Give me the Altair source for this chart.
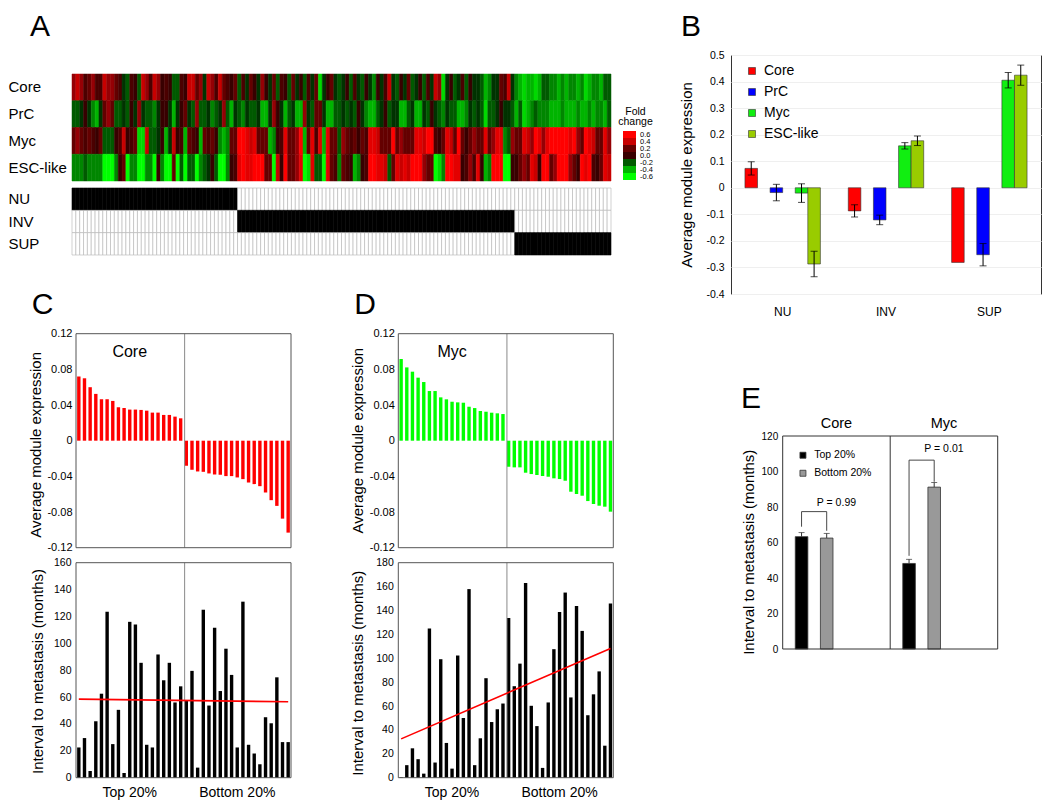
import altair as alt
import pandas as pd

FONT = "Liberation Sans"

# ---------------- Panel A data (fold change, in tenths) ----------------
modules = ["Core", "PrC", "Myc", "ESC-like"]
core_fc = [
    3, 4, 3, 1, 2, 3, 1, 1, 4, 3,
    3, 2, 1, -1, -2, 1, 0, -2, 4, 3,
    1, 4, 3, 0, 1, 0, -2, -2, 1, 0,
    4, 4, 2, 3, -1, 4, 3, 1, 4, 2,
    1, 0, 2, -2, 1, -1, 2, 0, -1, 3,
    0, -1, 2, -2, 1, 0, -2, 2, -1, 0,
    -2, 1, -1, 2, -5, -1, 0, 2, -1, -2,
    -1, 0, -2, 1, -1, -2, 0, -1, -3, 0,
    -1, 1, 4, -1, -2, 0, -1, 2, -2, -1,
    0, -2, 1, -1, 4, 3, -5, -1, 0, -2,
    -1, 1, -2, 0, -1, -1, -2, -4, -3, -1,
    -1, 2, 1, 4, -1, -3, -4, -5, -4, -4,
    -5, -4, -2, -2, -3, -3, -4, -3, -4, -3,
    -3, -4, -3, -5, -4, -3, -3, -4, -2, -2]
prc_fc = [
    -2, -2, -1, 0, -1, -3, -4, -1, 2, 3,
    2, -2, -2, -1, -2, 0, -1, 3, -1, -2,
    -2, -3, -1, 0, 0, -1, -4, -1, 0, 2,
    -1, -2, 3, -2, -2, -1, -3, -2, -1, 3,
    -2, -4, -1, -2, -3, -1, -2, -2, -1, -4,
    -4, -1, 3, 0, -1, -4, -2, -1, -4, -4,
    3, -1, -2, 2, 2, -1, -4, -4, -2, -2,
    -1, -2, -1, -2, 0, -1, -3, -4, -4, -2,
    -1, 0, -2, -1, -1, -4, -4, -2, -1, -4,
    -4, -1, -2, 0, -1, -2, -3, -1, -2, -2,
    -4, -4, -3, -1, -2, -1, -2, -5, -2, -2,
    -1, 0, -1, -1, -2, -4, -2, -5, -4, -3,
    -2, -3, -3, -3, -4, -4, -4, -3, -4, -4,
    -4, -3, -4, -4, -3, -4, -3, -3, -4, -2]
myc_fc = [
    2, 3, 2, 1, 2, 1, 0, 2, -2, -2,
    -2, 0, 1, 4, 0, 1, 2, -5, -5, 4,
    -2, -2, -1, 0, -4, -1, 4, 0, 1, -4,
    2, 1, 0, -4, 2, 1, 2, 0, -3, -4,
    -3, 2, 2, 6, 6, 5, 4, 5, 2, 2,
    2, -4, -3, 0, 1, 5, 2, 2, 3, 6,
    -4, 2, 5, 1, 5, -4, 5, 2, 2, -2,
    3, 2, 1, 2, 0, 2, 1, 5, 5, 4,
    2, 2, 2, 6, 2, 3, 2, 2, 2, 5,
    5, 4, 6, 6, 1, 0, 2, 5, 4, 2,
    6, 2, 0, 2, 3, 2, 2, 5, 2, 3,
    5, 5, -3, -2, 3, 2, 2, 5, 4, 3,
    6, 5, 3, 5, 6, 6, 6, 6, 6, 5,
    6, 3, 2, 6, 5, 4, 2, 2, 5, 3]
esc_fc = [
    -3, -3, -3, -2, -3, -3, -3, -3, -6, -6,
    -6, -3, 0, 2, -6, -3, -3, -6, -6, -3,
    -3, -6, 0, -3, -6, -6, 2, -6, -2, -6,
    -2, -2, -6, -3, -2, -1, 0, -2, -6, -6,
    -3, 0, 1, 5, 6, 5, 5, 6, 6, 6,
    2, 2, -6, 4, 0, 6, 2, 2, 3, 5,
    -6, -5, 5, -2, -2, -6, 5, 2, 1, -3,
    2, 1, 0, -4, -3, 0, 1, 6, 6, 5,
    5, 4, -2, 2, 5, 4, 5, 4, 6, 6,
    6, 3, 2, 2, -6, -5, -3, 6, 6, 5,
    5, 0, 1, 3, 1, 5, 0, -4, -3, 6,
    6, 6, -6, -6, 0, 0, 2, 3, 2, 5,
    4, 0, 6, 6, 2, 3, 6, 6, 6, 3,
    2, 0, 6, 5, 6, 1, 0, 2, 5, 4]
group_names = ["NU", "INV", "SUP"]
group_sizes = [43, 72, 25]
fold_levels = [0.6, 0.4, 0.2, 0.0, -0.2, -0.4, -0.6]
fold_labels = ["0.6", "0.4", "0.2", "0.0", "-0.2", "-0.4", "-0.6"]
fold_colors = ["#FF0000", "#C80000", "#640000", "#000000", "#005A00", "#00B400", "#00FF00"]
fold_title = ["Fold", "change"]

# ---------------- Panel B data ----------------
b_groups = ["NU", "INV", "SUP"]
b_series = ["Core", "PrC", "Myc", "ESC-like"]
b_colors = ["#FF0000", "#0000FF", "#11EE11", "#99CC00"]
b_core = [0.073, -0.087, -0.281]
b_prc = [-0.018, -0.121, -0.252]
b_myc = [-0.020, 0.158, 0.405]
b_esc = [-0.287, 0.177, 0.424]
b_core_err = [0.025, 0.023, 0.0]
b_prc_err = [0.031, 0.018, 0.042]
b_myc_err = [0.035, 0.012, 0.029]
b_esc_err = [0.048, 0.018, 0.038]

# ---------------- Panels C / D data ----------------
sample_idx = list(range(1, 39))
c_expr = [0.072, 0.070, 0.060, 0.0525, 0.0465, 0.0465, 0.0446, 0.0375, 0.0367, 0.0349,
          0.0349, 0.0345, 0.0337, 0.0315, 0.0315, 0.0289, 0.0289, 0.027, 0.0251,
          -0.0281, -0.0326, -0.0345, -0.0349, -0.0367, -0.0379, -0.0382, -0.0397, -0.0397,
          -0.0412, -0.0431, -0.0469, -0.0487, -0.051, -0.0581, -0.0667, -0.0731, -0.0874, -0.1031]
c_interval = [22.5, 29.5, 5, 42, 62.5, 123.5, 25, 50.5, 3.5, 116, 114, 85.5, 24.5, 22.5,
              91.7, 72.5, 85.5, 56, 68, 57.5, 79.5, 7.5, 125, 53.7, 111.5, 64.5, 96, 76.5,
              22.5, 131, 24.5, 18, 10, 45, 40.5, 74.7, 26.5, 26.5]
c_trend = [58.5, 56.5]
d_expr = [0.0916, 0.0822, 0.0774, 0.0707, 0.0658, 0.0557, 0.0557, 0.0486, 0.0464, 0.0437,
          0.043, 0.0426, 0.0381, 0.0366, 0.0333, 0.0325, 0.0314, 0.0307, 0.0299,
          -0.0292, -0.0299, -0.0299, -0.0359, -0.0374, -0.0385, -0.0396, -0.0404, -0.0422,
          -0.043, -0.0449, -0.0572, -0.0598, -0.0617, -0.0677, -0.071, -0.0729, -0.074, -0.0796]
d_interval = [0.5, 10.5, 24.6, 15.5, 3.4, 124.9, 12.7, 99.2, 29.1, 7.6, 102.3, 50, 157.9,
              10.5, 33, 83.3, 46.6, 57.3, 62.1, 133.6, 76.6, 95.5, 163, 60.2, 43.2, 8.2, 63,
              107.6, 138.7, 155, 67.2, 143.8, 122.9, 52.3, 69.8, 89, 26.8, 145.8]
d_trend = [32.5, 108.2]
half_labels = ["Top 20%", "Bottom 20%"]
half_label_idx = [10, 29]
split_idx = 20
name_idx = 10
expr_ticks = [-0.12, -0.08, -0.04, 0, 0.04, 0.08, 0.12]

# ---------------- Panel E data ----------------
e_groups = ["Core", "Myc"]
e_series = ["Top 20%", "Bottom 20%"]
e_colors = ["#000000", "#999999"]
e_top = [63.3, 48.2]
e_bottom = [62.5, 91.2]
e_top_err = [2.3, 2.3]
e_bottom_err = [2.6, 2.6]
p_text = ["P = 0.99", "P = 0.01"]
p_text_y = [82.5, 112.6]
bracket_top = [77.4, 106.4]
bracket_leg_top = [68.9, 52.5]
bracket_leg_bottom = [66.6, 94.2]

ONE = pd.DataFrame({"z": [0]})


def minus_label(fmt):
    return ("datum.value == 0 ? '0' : replace(format(datum.value, '" + fmt +
            "'), '\u2212', '-')")


def letter(t, dx, offset, dy=0):
    return alt.TitleParams(t, anchor="start", frame="group", fontSize=30,
                           fontWeight="normal", font=FONT, color="black",
                           dx=dx, dy=dy, offset=offset)


def spacer(w, h):
    return alt.Chart(ONE).mark_point(opacity=0).encode(
        x=alt.X("z:Q", axis=None), y=alt.Y("z:Q", axis=None)
    ).properties(width=w, height=h)


def frame(x_lo, x_hi, y_hi, y_lo, color):
    return alt.Chart(ONE).mark_rect(fillOpacity=0, stroke=color, strokeWidth=1).encode(
        x=x_lo, x2=x_hi, y=alt.datum(y_hi), y2=alt.datum(y_lo))


# ================= Panel A =================
A_W, A_H = 539, 239
HEAT_TOP, HEAT_H = 19, 107
GRID_TOP, GRID_H = 133, 67

hm_rows = []
for m, vals in zip(modules, [core_fc, prc_fc, myc_fc, esc_fc]):
    for i, v in enumerate(vals):
        hm_rows.append({"module": m, "col": i, "fc": v / 10})
hm_df = pd.DataFrame(hm_rows)


def cscale():
    return alt.Scale(domain=fold_levels[::-1], range=fold_colors[::-1], clamp=True)


def row_axis():
    return alt.Axis(title=None, orient="left", domain=False, ticks=False, tickSize=0,
                    labelAlign="left", labelPadding=64, labelFontSize=15,
                    labelColor="black", labelFont=FONT)


col_x = alt.X("col:O", axis=None, scale=alt.Scale(paddingInner=0, paddingOuter=0))
heat = alt.Chart(hm_df).mark_rect(strokeWidth=0.5).encode(
    x=col_x,
    y=alt.Y("module:N", sort=modules, axis=row_axis(),
            scale=alt.Scale(paddingInner=0, paddingOuter=0,
                            range=[HEAT_TOP, HEAT_TOP + HEAT_H])),
    color=alt.Color("fc:Q", scale=cscale(), legend=None),
    stroke=alt.Stroke("fc:Q", scale=cscale(), legend=None),
)

sample_group = []
for g, n in zip(group_names, group_sizes):
    sample_group += [g] * n
grid_rows = [{"row": g, "col": i, "member": sg == g}
             for g in group_names for i, sg in enumerate(sample_group)]
grid = alt.Chart(pd.DataFrame(grid_rows)).mark_rect(strokeWidth=0.6).encode(
    x=col_x,
    y=alt.Y("row:N", sort=group_names, axis=row_axis(),
            scale=alt.Scale(paddingInner=0, paddingOuter=0,
                            range=[GRID_TOP, GRID_TOP + GRID_H])),
    fill=alt.condition("datum.member", alt.value("#000000"), alt.value("#ffffff")),
    stroke=alt.condition("datum.member", alt.value("#000000"), alt.value("#b4b4b4")),
)
panel_a = alt.layer(heat, grid).resolve_scale(y="independent", stroke="independent").properties(
    width=A_W, height=A_H, title=letter("A", -42, 13))

# fold-change key
KEY_TOP, KEY_PX_PER_UNIT = 76, 35
key_hi = fold_levels[0] + 0.1 + KEY_TOP / KEY_PX_PER_UNIT
key_lo = key_hi - A_H / KEY_PX_PER_UNIT
fold_df = pd.DataFrame({"level": fold_levels, "label": fold_labels})
fold_y = alt.Scale(domain=[key_lo, key_hi], nice=False, zero=False)
fold_rect = alt.Chart(fold_df).transform_calculate(
    lo="datum.level - 0.1", hi="datum.level + 0.1"
).mark_rect().encode(
    x=alt.XDatum(0, type="quantitative", scale=alt.Scale(domain=[0, 1]), axis=None),
    x2=alt.datum(1),
    y=alt.Y("lo:Q", scale=fold_y, axis=None),
    y2="hi:Q",
    color=alt.Color("level:Q", scale=cscale(), legend=None),
)
fold_txt = alt.Chart(fold_df).mark_text(align="left", dx=4, fontSize=7.5, font=FONT,
                                        color="black").encode(
    x=alt.XDatum(1, type="quantitative"),
    y=alt.Y("level:Q", scale=fold_y, axis=None),
    text="label:N",
)
fold_key = alt.layer(fold_rect, fold_txt).properties(
    width=13, height=A_H,
    title=alt.TitleParams(fold_title, anchor="middle", frame="group", fontSize=10.5,
                          fontWeight="normal", font=FONT, color="black", dx=6, dy=72,
                          offset=0, lineHeight=10),
)

# ================= Panel B =================
b_rows = []
for s, vals, errs in zip(b_series, [b_core, b_prc, b_myc, b_esc],
                         [b_core_err, b_prc_err, b_myc_err, b_esc_err]):
    for g, v, e in zip(b_groups, vals, errs):
        b_rows.append({"group": g, "series": s, "value": v, "lo": v - e, "hi": v + e, "err": e})
b_df = pd.DataFrame(b_rows)

xb = alt.X("group:N", sort=b_groups,
           scale=alt.Scale(paddingInner=0.27, paddingOuter=0.135),
           axis=alt.Axis(title=None, labelAngle=0, ticks=False, domain=False,
                         labelFontSize=12, labelPadding=12, labelColor="black"))
xo = alt.XOffset("series:N", sort=b_series, scale=alt.Scale(paddingInner=0, paddingOuter=0))
b_ticks = [-0.4, -0.3, -0.2, -0.1, 0, 0.1, 0.2, 0.3, 0.4, 0.5]
b_scale = alt.Scale(domain=[-0.4, 0.5], nice=False)
b_axis = alt.Axis(title="Average module expression", values=b_ticks,
                  labelExpr=minus_label(".1f"), ticks=False, domain=False,
                  grid=True, gridColor="#efefef", labelFontSize=10.5,
                  labelPadding=7, titleFontSize=15, titleX=-44.7, titleY=119.5,
                  titleBaseline="middle", titleAlign="center", titleAngle=270)
b_bars = alt.Chart(b_df).mark_bar(stroke="#333333", strokeWidth=0.6).encode(
    x=xb, xOffset=xo,
    y=alt.Y("value:Q", scale=b_scale, axis=b_axis),
    color=alt.Color("series:N", sort=b_series,
                    scale=alt.Scale(domain=b_series, range=b_colors),
                    legend=alt.Legend(title=None, orient="none", legendX=14, legendY=9,
                                      symbolType="square", symbolSize=49,
                                      symbolStrokeColor="#333333", symbolStrokeWidth=0.6,
                                      labelFontSize=14, labelOffset=5, rowPadding=7,
                                      padding=0, labelFont=FONT, labelColor="black")),
)
b_err = alt.Chart(b_df).transform_filter("datum.err > 0").mark_rule(
    color="black", strokeWidth=1).encode(
    x=xb, xOffset=xo, y=alt.Y("lo:Q", scale=b_scale, axis=b_axis), y2="hi:Q")
b_caps = alt.Chart(b_df).transform_filter("datum.err > 0").transform_fold(
    ["lo", "hi"], as_=["k", "yv"]
).mark_tick(color="black", thickness=1, size=7).encode(
    x=xb, xOffset=xo, y=alt.Y("yv:Q", scale=b_scale, axis=b_axis))
panel_b = alt.layer(b_bars, b_err, b_caps).properties(
    width=310, height=239, view=alt.ViewBackground(stroke="#333333"),
    title=letter("B", -50, 8.5))

# ================= Panels C and D in one chart (each: expression above, interval below) ====
CD_W, CD_H = 541.3, 444
TOP_H, BOT_H = 214, 215
PANEL_W = 215
C_LEFT, D_LEFT = 4, 326.3


def updown(left, expr_vals, color, name, let, interval_vals, trend, ymax, t_top, t_bot):
    rng = [left, left + PANEL_W]
    xs = alt.Scale(domain=sample_idx, range=rng, paddingInner=0.4, paddingOuter=0.2)
    lab_expr = (f"datum.value == {half_label_idx[0]} ? '{half_labels[0]}' : "
                f"'{half_labels[1]}'")
    fx_lo, fx_hi = alt.value(left), alt.value(left + PANEL_W)
    # --- upper plot: average module expression
    top_scale = alt.Scale(domain=[0.12 - 0.24 * CD_H / TOP_H, 0.12], nice=False, zero=False)
    tdf = pd.DataFrame({"i": sample_idx, "v": expr_vals})
    t_bars = alt.Chart(tdf).mark_bar(color=color).encode(
        x=alt.X("i:O", scale=xs, axis=None),
        y=alt.Y("v:Q", scale=top_scale,
                axis=alt.Axis(title="Average module expression", orient="left",
                              offset=-left, values=expr_ticks,
                              labelExpr=minus_label(".2f"), ticks=False, domain=False,
                              grid=False, labelFontSize=11, labelPadding=4,
                              titleFontSize=15, titleX=t_top[0], titleY=t_top[1],
                              titleBaseline="middle", titleAlign="center", titleAngle=270)),
    )
    t_div = alt.Chart(pd.DataFrame({"i": [split_idx]})).mark_rule(
        color="#8a8a8a", strokeWidth=1).encode(
        x=alt.X("i:O", bandPosition=0), y=alt.datum(0.12), y2=alt.datum(-0.12))
    t_lab = alt.Chart(pd.DataFrame({"i": [name_idx], "name": [name]})).mark_text(
        fontSize=16, font=FONT, color="black").encode(
        x="i:O", y=alt.datum(0.1), text="name:N")
    t_let = alt.Chart(pd.DataFrame({"i": [sample_idx[0]], "t": [let]})).mark_text(
        fontSize=30, font=FONT, color="black", align="left", baseline="alphabetic",
        dx=-47, dy=-19.7).encode(x="i:O", y=alt.datum(0.12), text="t:N")
    upper = alt.layer(t_bars, t_div, t_lab, t_let,
                      frame(fx_lo, fx_hi, 0.12, -0.12, "#555555"))
    # --- lower plot: interval to metastasis
    bot_scale = alt.Scale(domain=[0, ymax * CD_H / BOT_H], nice=False, zero=False)
    bdf = pd.DataFrame({"i": sample_idx, "v": interval_vals})
    b_bars_ = alt.Chart(bdf).mark_bar(color="black").encode(
        x=alt.X("i:O", scale=xs,
                axis=alt.Axis(title=None, orient="bottom", values=half_label_idx,
                              labelExpr=lab_expr, labelAngle=0, ticks=False,
                              domain=False, labelFontSize=14, labelPadding=8,
                              labelColor="black")),
        y=alt.Y("v:Q", scale=bot_scale,
                axis=alt.Axis(title="Interval to metastasis (months)", orient="left",
                              offset=-left, values=list(range(0, ymax + 1, 20)),
                              format="d", ticks=False, domain=False, grid=False,
                              labelFontSize=10.5, labelPadding=5, titleFontSize=15,
                              titleX=t_bot[0], titleY=t_bot[1], titleBaseline="middle",
                              titleAlign="center", titleAngle=270)),
    )
    b_div = alt.Chart(pd.DataFrame({"i": [split_idx]})).mark_rule(
        color="#8a8a8a", strokeWidth=1).encode(
        x=alt.X("i:O", bandPosition=0), y=alt.datum(ymax), y2=alt.datum(0))
    ldf = pd.DataFrame({"i": [sample_idx[0], sample_idx[-1]], "v": trend})
    b_line = alt.Chart(ldf).mark_line(color="#FF0000", strokeWidth=1.6).encode(
        x="i:O", y="v:Q")
    lower = alt.layer(b_bars_, b_div, b_line, frame(fx_lo, fx_hi, ymax, 0, "#555555"))
    return upper, lower


c_up, c_low = updown(C_LEFT, c_expr, "#FF0000", "Core", "C", c_interval, c_trend, 160,
                     (-40.2, 110.6), (-38.8, 337.3))
d_up, d_low = updown(D_LEFT, d_expr, "#00FF00", "Myc", "D", d_interval, d_trend, 180,
                     (-40.8, 106.5), (-40.8, 339.0))
panel_cd = alt.layer(c_up, c_low, d_up, d_low).resolve_scale(
    x="independent", y="independent").properties(width=CD_W, height=CD_H)

# ================= Panel E =================
E_PLOT_W, E_PLOT_H, E_TOP, E_LEFT = 215, 213, 102.3, 51.7
E_W, E_H = E_PLOT_W + E_LEFT, E_PLOT_H + E_TOP
e_rows = []
for gi, g in enumerate(e_groups):
    for s, vals, errs in zip(e_series, [e_top, e_bottom], [e_top_err, e_bottom_err]):
        e_rows.append({"group": g, "series": s, "value": vals[gi], "hi": vals[gi] + errs[gi]})
e_df = pd.DataFrame(e_rows)
br_rows = []
for gi, g in enumerate(e_groups):
    br_rows += [
        {"group": g, "series": e_series[0], "y": bracket_leg_top[gi], "o": 0},
        {"group": g, "series": e_series[0], "y": bracket_top[gi], "o": 1},
        {"group": g, "series": e_series[1], "y": bracket_top[gi], "o": 2},
        {"group": g, "series": e_series[1], "y": bracket_leg_bottom[gi], "o": 3},
    ]
br_df = pd.DataFrame(br_rows)
p_df = pd.DataFrame({"group": e_groups, "p": p_text, "y": p_text_y})

xe = alt.X("group:N", sort=e_groups,
           scale=alt.Scale(domain=e_groups, range=[E_LEFT, E_W], paddingInner=0,
                           paddingOuter=0),
           axis=alt.Axis(orient="top", title=None, labelAngle=0, ticks=False, domain=False,
                         labelFontSize=14.5, labelPadding=6, labelColor="black",
                         offset=-E_TOP))
xoe = alt.XOffset("series:N", sort=e_series,
                  scale=alt.Scale(paddingInner=0, paddingOuter=0.72))
e_scale = alt.Scale(domain=[0, 120 * E_H / E_PLOT_H], nice=False, zero=False)
e_axis = alt.Axis(title="Interval to metastasis (months)", offset=-E_LEFT,
                  values=list(range(0, 121, 20)), ticks=False, domain=False,
                  grid=False, labelFontSize=10, labelPadding=5, titleFontSize=15,
                  titleX=-34.2, titleY=218.1, titleBaseline="middle",
                  titleAlign="center", titleAngle=270)
e_bars = alt.Chart(e_df).mark_bar(stroke="#333333", strokeWidth=0.8).encode(
    x=xe, xOffset=xoe,
    y=alt.Y("value:Q", scale=e_scale, axis=e_axis),
    color=alt.Color("series:N", sort=e_series,
                    scale=alt.Scale(domain=e_series, range=e_colors),
                    legend=alt.Legend(title=None, orient="none", legendX=15 + E_LEFT,
                                      legendY=14 + E_TOP,
                                      symbolType="square", symbolSize=36,
                                      symbolStrokeColor="#333333", symbolStrokeWidth=0.8,
                                      labelFontSize=10.5, labelOffset=6, rowPadding=7,
                                      padding=0, labelFont=FONT, labelColor="black")),
)
e_err = alt.Chart(e_df).mark_rule(color="#333333", strokeWidth=1).encode(
    x=xe, xOffset=xoe, y=alt.Y("value:Q", scale=e_scale, axis=e_axis), y2="hi:Q")
e_caps = alt.Chart(e_df).mark_tick(color="#333333", thickness=1, size=6).encode(
    x=xe, xOffset=xoe, y=alt.Y("hi:Q", scale=e_scale, axis=e_axis))
e_br = alt.Chart(br_df).mark_line(color="#333333", strokeWidth=0.9).encode(
    x=xe, xOffset=xoe, y=alt.Y("y:Q", scale=e_scale, axis=e_axis), order="o:Q",
    detail="group:N")
e_p = alt.Chart(p_df).mark_text(fontSize=10.5, font=FONT, color="black").encode(
    x=xe, y=alt.Y("y:Q", scale=e_scale, axis=e_axis), text="p:N")
e_div = alt.Chart(pd.DataFrame({"group": [e_groups[1]]})).mark_rule(
    color="#333333", strokeWidth=1).encode(
    x=alt.X("group:N", sort=e_groups, bandPosition=0), y=alt.datum(120), y2=alt.datum(0))
e_frame = alt.Chart(pd.DataFrame({"group": [e_groups[0]]})).mark_rect(
    fillOpacity=0, stroke="#333333", strokeWidth=1).encode(
    x=alt.X("group:N", sort=e_groups, bandPosition=0), x2=alt.value("width"),
    y=alt.datum(120), y2=alt.datum(0))
panel_e = alt.layer(e_bars, e_err, e_caps, e_br, e_p, e_div, e_frame).properties(
    width=E_W, height=E_H, title=letter("E", 10, 0, dy=80))

# ================= Layout (single flush grid) =================
cells = [
    panel_a, spacer(8.7, A_H), fold_key, spacer(95, A_H), panel_b,
    panel_cd, spacer(1, 1), spacer(1, 1), spacer(1, 1), panel_e,
]
chart = alt.concat(
    *cells, columns=5, bounds="flush", align="none",
    spacing={"row": 39.7, "column": 0}
).resolve_scale(color="independent").properties(
    padding={"left": 0, "top": 3, "right": 0, "bottom": 0}
).configure(font=FONT).configure_view(stroke=None).configure_axis(
    labelFont=FONT, titleFont=FONT, labelColor="black", titleColor="black",
    titleFontWeight="normal"
).configure_legend(labelFont=FONT)

chart.save("out.html", embed_options={"renderer": "svg", "actions": False})
